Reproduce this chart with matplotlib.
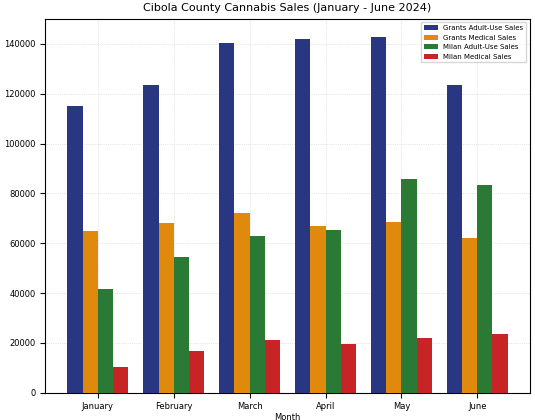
import matplotlib.pyplot as plt
import numpy as np

months = ["January", "February", "March", "April", "May", "June"]
grants_adult = [115000, 123400, 140500, 142000, 142800, 123400]
grants_medical = [65000, 68200, 72200, 67000, 68600, 61900]
milan_adult = [41700, 54300, 62700, 65400, 85700, 83300]
milan_medical = [10300, 16700, 21000, 19400, 21800, 23400]

series = [
    ("Grants Adult-Use Sales", grants_adult, "#293782"),
    ("Grants Medical Sales", grants_medical, "#df8a0c"),
    ("Milan Adult-Use Sales", milan_adult, "#2a7a36"),
    ("Milan Medical Sales", milan_medical, "#c72525"),
]

fig, ax = plt.subplots(figsize=(5.35, 4.2), dpi=100)
x = np.arange(len(months))
w = 0.2
for i, (name, vals, col) in enumerate(series):
    ax.bar(x + (i - 1.5) * w, vals, w, label=name, color=col, zorder=3)

ax.set_xticks(x)
ax.set_xticklabels(months, fontsize=6)
ax.tick_params(axis="y", labelsize=6)
ax.set_xlabel("Month", fontsize=6, labelpad=1)
ax.set_ylabel("Sales (in USD)", fontsize=6, labelpad=2)
ax.set_title("Cibola County Cannabis Sales (January - June 2024)", fontsize=8)
ax.set_ylim(0, 150000)
ax.grid(True, linestyle=":", linewidth=0.5, color="#cccccc", zorder=0)
ax.legend(fontsize=5, loc="upper right")
fig.subplots_adjust(left=0.085, right=0.99, top=0.955, bottom=0.065)
fig.savefig("out.png")
